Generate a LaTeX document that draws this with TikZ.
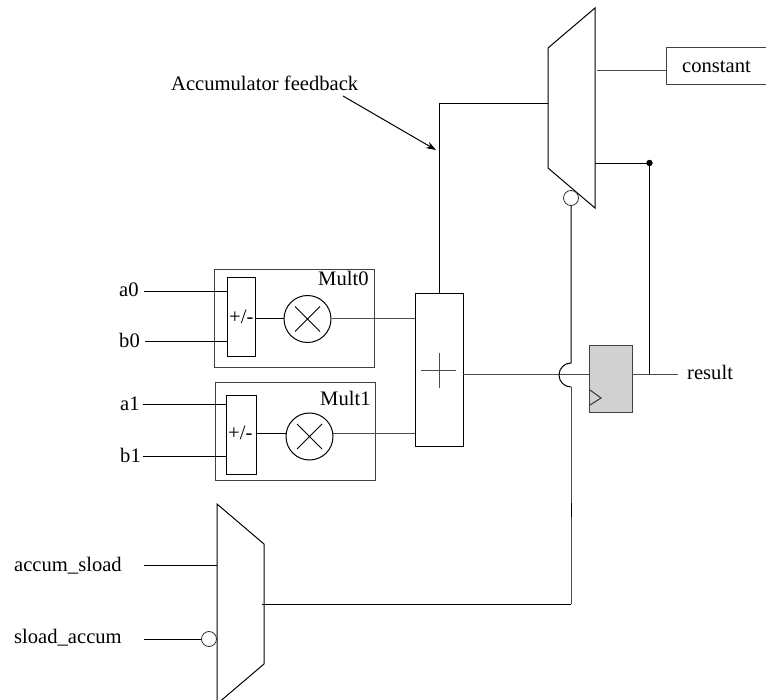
\documentclass[tikz,border=0pt]{standalone}
\usepackage{fontspec}
\setmainfont{Liberation Serif}
\usetikzlibrary{arrows.meta}
\tikzset{
  x=1pt,y=-1pt,
  wire/.style={line width=1pt,black},
  greywire/.style={line width=1pt,black!70},
  box/.style={draw=black!75,line width=1pt,fill=white,inner sep=0pt,rectangle,anchor=north west},
  thinbox/.style={draw=black,line width=1pt,inner sep=0pt,rectangle,anchor=north west},
  mulop/.style={draw=black,line width=1pt,circle,minimum size=47pt,inner sep=0pt},
  bubble/.style={draw=black!80,line width=0.8pt,fill=white,circle,minimum size=15pt,inner sep=0pt},
  lbl/.style={font=\fontsize{20.6}{24}\selectfont,inner sep=0pt,anchor=base west},
  muxshape/.style={draw=black,line width=1pt,line join=miter},
  frame/.style={inner sep=0pt,rectangle,anchor=north west},
}
\begin{document}
\begin{tikzpicture}
\useasboundingbox (0,0) rectangle (766,700);
% outer multiplier boxes
\node[box,minimum width=160pt,minimum height=98pt] (m0) at (214,269) {};
\node[box,minimum width=160pt,minimum height=98pt] (m1) at (215,382) {};
\node[lbl] (m0t) at (318,286) {Mult0};
\node[lbl] (m1t) at (320,406) {Mult1};
% add/sub
\node[thinbox,minimum width=28pt,minimum height=79pt] (s0) at (227,277) {};
\node[thinbox,minimum width=30pt,minimum height=79pt] (s1) at (226,395) {};
\node[lbl] (s0t) at (229,324) {+/-};
\node[lbl] (s1t) at (228,440) {+/-};
% multipliers
\node[mulop] (x0) at (307.5,319) {};
\node[mulop] (x1) at (309.5,436.5) {};
\draw[wire] ([shift={(-12.5pt,12.5pt)}]x0.center) -- ([shift={(12.5pt,-12.5pt)}]x0.center)
            ([shift={(12.5pt,12.5pt)}]x0.center) -- ([shift={(-12.5pt,-12.5pt)}]x0.center);
\draw[wire] ([shift={(-12.5pt,12.5pt)}]x1.center) -- ([shift={(12.5pt,-12.5pt)}]x1.center)
            ([shift={(12.5pt,12.5pt)}]x1.center) -- ([shift={(-12.5pt,-12.5pt)}]x1.center);
% adder
\node[thinbox,minimum width=48pt,minimum height=153pt] (add) at (415,293) {};
\draw[greywire] (421,371) -- (456,371) (439,353) -- (439,388);
% register
\node[box,fill=black!18,minimum width=43pt,minimum height=67pt] (ff) at (589,345) {};
\draw[line width=1pt,black!80] (590,390) -- (601,398) -- (590,405);
% constant
\node[box,minimum width=100pt,minimum height=37pt] (const) at (666,47) {};
\node[lbl] (constt) at (682,73) {constant};
% top mux
\coordinate (ta) at (595,8);
\coordinate (tb) at (548,48);
\coordinate (tc) at (548,168);
\coordinate (td) at (595,208);
\node[frame,minimum width=47pt,minimum height=200pt] (tm) at (548,8) {};
\draw[muxshape] (ta) -- (tb) -- (tc) -- (td) -- cycle;
\node[bubble] (tinv) at (571,198) {};
% bottom mux
\coordinate (ba) at (217,504);
\coordinate (bb) at (264,544);
\coordinate (bc) at (264,664);
\coordinate (bd) at (217,704);
\node[frame,minimum width=47pt,minimum height=196pt] (bm) at (217,504) {};
\begin{scope}
\clip (0,0) rectangle (766,700);
\draw[muxshape] (ba) -- (bb) -- (bc) -- (bd) -- cycle;
\end{scope}
\node[bubble] (binv) at (209,639) {};
% input labels
\node[lbl] (a0) at (119,297) {a0};
\node[lbl] (b0) at (119,348) {b0};
\node[lbl] (a1) at (120,411) {a1};
\node[lbl] (b1) at (120,463) {b1};
\node[lbl] (asl) at (14,571) {accum\_sload};
\node[lbl] (sla) at (14,643) {sload\_accum};
\node[lbl] (res) at (687,380) {result};
\node[lbl] (fb) at (171,91) {Accumulator feedback};
% free ends
\coordinate (a0e) at (144,292);
\coordinate (b0e) at (145,342);
\coordinate (a1e) at (143,405);
\coordinate (b1e) at (143,457);
\coordinate (asle) at (144,565);
\coordinate (slae) at (144,639);
\coordinate (rese) at (678,375);
\coordinate (ffin) at (589,375);
\coordinate (ffout) at (632,375);
\coordinate (addout) at (463,375);
\coordinate (mo) at (595,164);
\coordinate (dot) at (649.5,163);
\coordinate (fbs) at (343,96);
\coordinate (fbe) at (436,150);
\coordinate (hopT) at (571,363);
\coordinate (hopB) at (571,387);
\coordinate (x1in) at (256,434);
\coordinate (x1inr) at (286.5,434);
\coordinate (x1out) at (333,434);
\coordinate (addin1) at (415,434);
\coordinate (cin) at (597,71);
\coordinate (cout) at (666,71);
\coordinate (bmout) at (262,604);
\coordinate (bend) at (571,604);
\coordinate (fbtop) at (439,104);
\coordinate (fbbase) at (439,293);
\coordinate (tmin) at (548,104);
\coordinate (mk1) at (571,503);
\coordinate (mk2) at (571,517);
% inputs
\draw[wire] (a0e) -- (a0e -| s0.west);
\draw[wire] (b0e) -- (b0e -| s0.west);
\draw[wire] (a1e) -- (a1e -| s1.west);
\draw[wire] (b1e) -- (b1e -| s1.west);
% internal
\draw[wire] (s0.east |- x0) -- (x0.west);
\draw[wire] (x1in) -- (x1inr);
\draw[greywire] (x0.east) -- (x0.east -| add.west);
\draw[greywire] (x1out) -- (addin1);
% adder out with hop
\draw[greywire] (addout) -- (ffin);
\draw[wire] (tinv.south) -- (hopT) arc[start angle=90,end angle=270,radius=12pt];
\draw[greywire] (hopB) -- (bend);
\draw[wire] (mk1) -- (mk2);
\draw[wire] (bend) -- (bmout);
% feedback
\draw[wire] (fbbase) -- (fbtop) -- (tmin);
% top mux connections
\draw[greywire] (cin) -- (cout);
\draw[wire] (mo) -- (mo -| dot) -- (ffout -| dot);
\fill (dot) circle[radius=3.2pt];
\draw[greywire] (ffout) -- (rese);
% bottom mux inputs
\draw[wire] (asle) -- (asle -| ba);
\draw[wire] (slae) -- (binv.west);
% annotation
\draw[wire,-{Stealth[length=10pt,width=7pt]}] (fbs) -- (fbe);
\end{tikzpicture}
\end{document}
